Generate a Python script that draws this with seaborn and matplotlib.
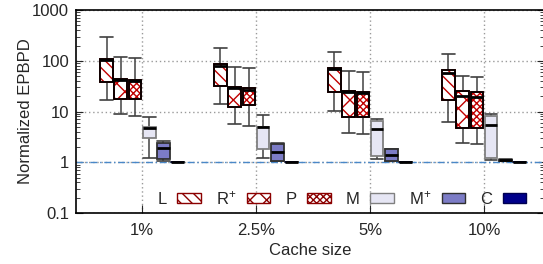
import numpy as np
import pandas as pd
import matplotlib
matplotlib.use("Agg")
import matplotlib.pyplot as plt
from matplotlib.patches import PathPatch, Patch
import seaborn as sns

# ---------------- data ----------------
cache_sizes = ["1%", "2.5%", "5%", "10%"]
schemes = ["L", "R+", "P", "M", "M+", "C"]
legend_labels = ["L", "R$^{+}$", "P", "M", "M$^{+}$", "C"]
# each entry: [whisker low, q1, median, q3, whisker high] per cache size
L_stats = [[17, 38, 105, 110, 290], [14, 32, 80, 85, 176],
           [10.4, 24, 70, 73, 147], [6.3, 16.6, 58, 66, 134]]
Rp_stats = [[8.8, 17.4, 42, 44, 120], [5.6, 12.4, 29, 30.8, 76],
            [3.83, 7.9, 24.6, 25, 64], [2.43, 4.66, 19.9, 25, 50.8]]
P_stats = [[8.3, 17.4, 40, 42, 112], [5.3, 13.2, 27, 29.4, 71],
           [3.6, 7.9, 23.5, 24, 61], [2.29, 4.66, 19.6, 23.9, 47]]
M_stats = [[1.23, 2.96, 4.66, 4.9, 7.7], [1.23, 1.82, 4.9, 5.0, 8.5],
           [1.14, 1.33, 4.58, 6.6, 7.0], [1.12, 1.19, 5.4, 8.3, 8.8]]
Mp_stats = [[1.04, 1.14, 1.88, 2.36, 2.66], [1.06, 1.06, 1.61, 2.29, 2.35],
            [1.07, 1.07, 1.39, 1.85, 1.85], [1.04, 1.06, 1.1, 1.12, 1.14]]
C_stats = [[1.0, 1.0, 1.01, 1.02, 1.02], [1.0, 1.0, 1.01, 1.02, 1.02],
           [1.0, 1.0, 1.01, 1.02, 1.02], [1.0, 1.0, 1.01, 1.02, 1.02]]
baseline = 1.0

all_stats = [L_stats, Rp_stats, P_stats, M_stats, Mp_stats, C_stats]
rows = []
for s, st in zip(schemes, all_stats):
    for c, vals in zip(cache_sizes, st):
        for v in vals:
            rows.append({"cache": c, "scheme": s, "value": v})
df = pd.DataFrame(rows)

# ---------------- style ----------------
fills = ["#ffffff", "#ffffff", "#ffffff", "#e6e6f4", "#7c7cc6", "#00008b"]
edges = ["#000000", "#000000", "#000000", "#808080", "#303030", "#000050"]
hatches = ["\\\\\\", "xx", "xxxxx", None, None, None]
hatch_red = "#c00000"

sns.set_style("ticks")
plt.rcParams["font.family"] = ["Liberation Sans", "DejaVu Sans"]
plt.rcParams["mathtext.fontset"] = "custom"
plt.rcParams["mathtext.rm"] = "Liberation Sans"
plt.rcParams["mathtext.it"] = "Liberation Sans"
plt.rcParams["mathtext.default"] = "regular"
plt.rcParams["font.size"] = 12
plt.rcParams["hatch.linewidth"] = 1.0

fig = plt.figure(figsize=(5.43, 2.64), dpi=100)
ax = fig.add_axes([0.14, 0.193, 0.862, 0.769])

ax.set_yscale("log")
ax.axhline(baseline, color="#4a88c8", lw=1.0, ls=(0, (5, 2, 1, 2)), zorder=1)

sns.boxplot(data=df, x="cache", y="value", hue="scheme", order=cache_sizes,
            hue_order=schemes, palette=fills, whis=(0, 100), width=0.75,
            gap=0.12, dodge=True, linewidth=1.3, linecolor="#404040",
            showfliers=False, legend=False, ax=ax,
            medianprops=dict(color="black", linewidth=2.0),
            whiskerprops=dict(color="#505050", linewidth=1.2),
            capprops=dict(color="#404040", linewidth=1.2),
            boxprops=dict(zorder=3))

box_w = 0.75 / 6 * (1 - 0.12)
for i, cont in enumerate(ax.containers[:6]):
    for b in cont.boxes:
        b.set_facecolor(fills[i])
        b.set_zorder(3)
        if hatches[i]:
            b.set_hatch(hatches[i])
            b.set_edgecolor(hatch_red)
            ov = PathPatch(b.get_path(), transform=b.get_transform(),
                           fill=False, edgecolor=edges[i], lw=1.3, zorder=3.5)
            ax.add_patch(ov)
        else:
            b.set_edgecolor(edges[i])
    for cap in cont.caps:
        xd = np.asarray(cap.get_xdata(), dtype=float)
        cx = xd.mean()
        cap.set_xdata([cx - box_w / 2, cx + box_w / 2])
    for m in cont.medians:
        m.set_zorder(4)

ax.set_xlim(-0.58, 3.527)
ax.set_ylim(0.1, 1000)
ax.set_yticks([0.1, 1, 10, 100, 1000])
ax.set_yticklabels(["0.1", "1", "10", "100", "1000"])
ax.set_xticks(range(len(cache_sizes)))
ax.set_xticklabels(cache_sizes)
ax.set_xlabel("Cache size", fontsize=12, labelpad=4)
ax.set_ylabel("Normalized EPBPD", fontsize=12, labelpad=-1)

ax.grid(True, which="major", color="#9a9a9a", ls=(0, (1, 2)), lw=1.0)
ax.set_axisbelow(True)
ax.tick_params(axis="both", which="both", direction="in", labelsize=12)
ax.tick_params(axis="y", which="both", right=True, left=True)
ax.tick_params(axis="y", which="major", length=5, pad=5)
ax.tick_params(axis="y", which="minor", length=3)
ax.tick_params(axis="x", which="major", length=6, pad=7, top=False)
for sp in ax.spines.values():
    sp.set_visible(True)
    sp.set_linewidth(1.2)
    sp.set_color("black")

handles = []
for i in range(6):
    if hatches[i]:
        h = Patch(facecolor="white", edgecolor="#8b0000", hatch=hatches[i], lw=1.0)
    else:
        h = Patch(facecolor=fills[i], edgecolor=edges[i], lw=1.0)
    handles.append(h)
ax.legend(handles, legend_labels, ncol=6, markerfirst=False, frameon=False,
          loc="center right", bbox_to_anchor=(0.962, 0.075), borderaxespad=0,
          borderpad=0, handlelength=1.4, handleheight=0.55, handletextpad=0.65,
          columnspacing=0.9, fontsize=12)

fig.savefig("out.png", dpi=100)
